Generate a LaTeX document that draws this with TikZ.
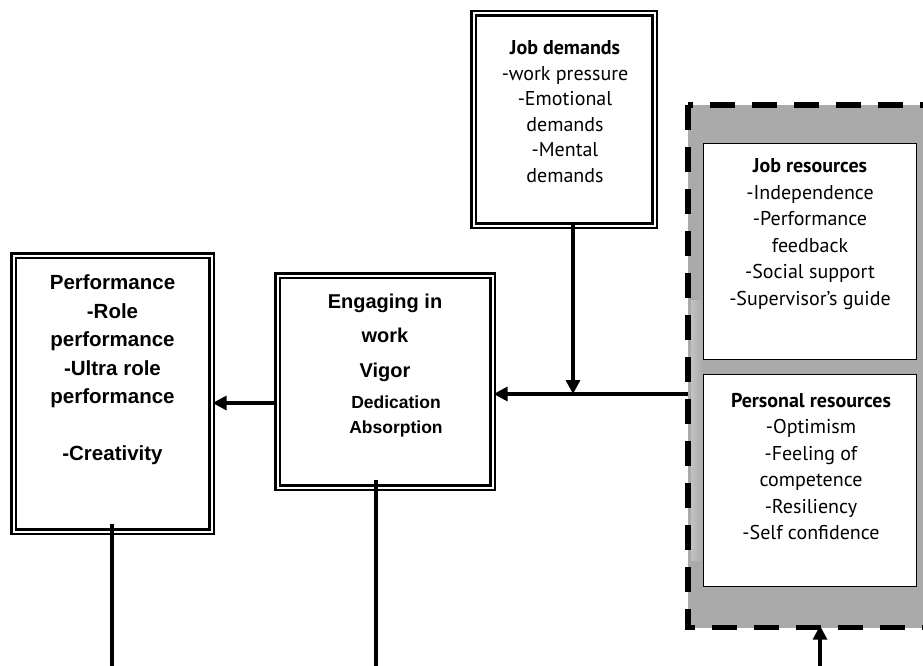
\documentclass[tikz,border=0pt]{standalone}
\usepackage{fontspec}
\setmainfont{PT Sans}
\newfontfamily\headfont{Liberation Sans}
\usetikzlibrary{arrows.meta,calc}
\definecolor{panelgray}{HTML}{AAAAAA}
\definecolor{panellight}{HTML}{C2C2C2}
\tikzset{
  dbox/.style={draw, double, double distance=2pt, line width=2.2pt, fill=white, inner sep=0pt},
  wbox/.style={draw, line width=1.6pt, fill=white, inner sep=0pt},
  panel/.style={draw, line width=5.5pt, dash pattern=on 25pt off 17pt, fill=panelgray},
  plain/.style={inner sep=0pt, align=center, font=\fontsize{20}{26.5}\selectfont},
  heavy/.style={inner sep=0pt, align=center, font=\headfont\bfseries\fontsize{20.5}{28.5}\selectfont},
  arr/.style={line width=3.2pt, -{Triangle[length=14pt,width=14pt]}},
  conn/.style={line width=3.2pt}
}
\begin{document}
\begin{tikzpicture}[x=1pt,y=-1pt]
  \clip (0,0) rectangle (923,666);
  \fill[white] (0,0) rectangle (923,666);

  % resources panel (runs past the right edge)
  \path[panel] (688,105) rectangle (945,627.5);
  \shade[left color=panellight, right color=panelgray] (691,300) rectangle (703,560);
  \node[minimum width=257pt, minimum height=522.5pt, inner sep=0pt] (res) at (816.5,366.25) {};

  % boxes
  \node[dbox, minimum width=181pt, minimum height=212pt] (jd) at (564,119.5) {};
  \node[dbox, minimum width=215pt, minimum height=212pt] (eng) at (385,381.5) {};
  \node[dbox, minimum width=198pt, minimum height=276pt] (perf) at (112.5,393.5) {};
  \node[wbox, minimum width=213pt, minimum height=216pt] (jr) at (810,251.5) {};
  \node[wbox, minimum width=213pt, minimum height=212pt] (pr) at (810,480.5) {};

  % box texts
  \node[plain, font=\fontsize{20}{25.5}\selectfont] (jdT) at (565,111.5)
    {\textbf{Job demands}\\-work pressure\\-Emotional\\demands\\-Mental\\demands};
  \node[plain] (jrT) at (810,234)
    {\textbf{Job resources}\\-Independence\\-Performance\\feedback\\-Social support\\-Supervisor’s guide};
  \node[plain] (prT) at (811,466.5)
    {\textbf{Personal resources}\\-Optimism\\-Feeling of\\competence\\-Resiliency\\-Self confidence};
  \node[heavy] (perfT) at (112.5,370)
    {Performance\\-Role\\performance\\-Ultra role\\performance\\[28.5pt]-Creativity};
  \node[heavy, font=\headfont\bfseries\fontsize{20}{34.5}\selectfont] (engT) at (385,337.5)
    {Engaging in\\work\\Vigor};
  \node[heavy, font=\headfont\bfseries\fontsize{17.5}{25}\selectfont] (engT2) at (396,416)
    {Dedication\\Absorption};

  % connectors
  \coordinate (jn) at (573,394);
  \coordinate (ep) at (250,403);
  \coordinate (pbot) at (112,670);
  \coordinate (ebot) at (376,670);
  \coordinate (rbot) at (820,670);

  \draw[arr, shorten <=-3pt] (jd.south -| jn) -- (jn);
  \draw[arr] (res.west |- jn) -- (eng.east |- jn);
  \draw[arr] (eng.west |- ep) -- (perf.east |- ep);
  \draw[conn, shorten <=-9pt] (perf.south -| pbot) -- (pbot);
  \draw[conn, shorten <=-9pt] (eng.south -| ebot) -- (ebot);
  \draw[arr, shorten >=-2pt] (rbot) -- (res.south -| rbot);
\end{tikzpicture}
\end{document}
